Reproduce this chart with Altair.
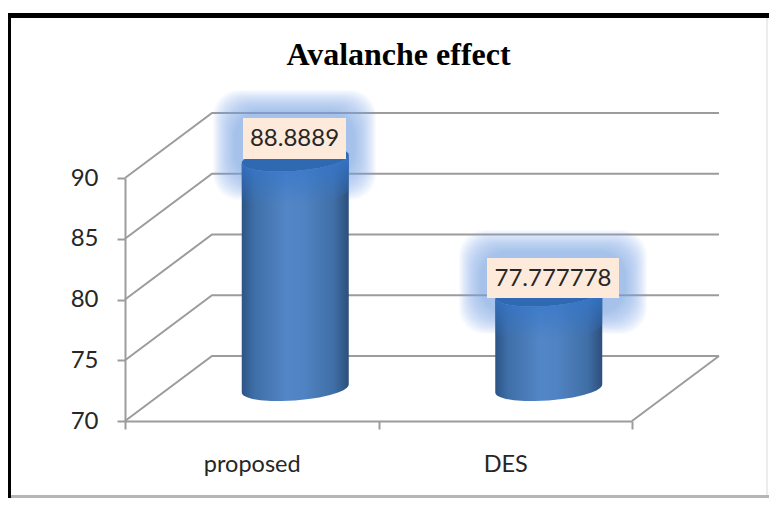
import numpy as np
import pandas as pd
import altair as alt

categories = ["proposed", "DES"]
values = [88.8889, 77.777778]
label_texts = ["88.8889", "77.777778"]
y_ticks = [70, 75, 80, 85, 90]

# pixel calibration of the oblique projection
X0, XU = 125.0, 253.5
Y0, YU = 421.0, 12.15
DX_PX, DY_PX = 87.0, 65.0
def ux(px): return (px - X0) / XU
def uy(py): return 70 + (Y0 - py) / YU
dx = DX_PX / XU
dy = DY_PX / YU

xs = alt.Scale(domain=[0, 2], nice=False, zero=False)
ys = alt.Scale(domain=[70, 90], nice=False, zero=False)
X = alt.X("x:Q", scale=xs, axis=None)
Y = alt.Y("y:Q", scale=ys, axis=None)
X2 = alt.X2("x2:Q")
Y2 = alt.Y2("y2:Q")

# back wall + side wall grid
grid_rows = []
for i, t in enumerate(y_ticks):
    grid_rows += [
        {"g": i, "o": 0, "x": 0, "y": t},
        {"g": i, "o": 1, "x": dx, "y": t + dy},
        {"g": i, "o": 2, "x": 2 + dx, "y": t + dy},
    ]
grid_rows += [
    {"g": 9, "o": 0, "x": 2, "y": 70},
    {"g": 9, "o": 1, "x": 2 + dx, "y": 70 + dy},
]
grid_df = pd.DataFrame(grid_rows)

GRID = "#9c9c9c"
AXFONT = "Lato"
AXCOL = "#262626"

grid = alt.Chart(grid_df).mark_line(color=GRID, strokeWidth=2).encode(
    x=alt.X("x:Q", scale=xs, axis=alt.Axis(
        values=[0, 0.5, 1, 1.5, 2], title=None, orient="bottom",
        tickSize=8, tickWidth=2, tickColor=GRID,
        tickOpacity={"condition": {"test": "datum.value % 1 != 0", "value": 0}, "value": 1},
        domainColor=GRID, domainWidth=2, grid=False,
        labelExpr=f"datum.value == 0.5 ? '{categories[0]}' : datum.value == 1.5 ? '{categories[1]}' : ''",
        labelFont=AXFONT, labelFontSize=23.5, labelColor=AXCOL, labelPadding=23,
        labelFlush=False, labelOverlap=False)),
    y=alt.Y("y:Q", scale=ys, axis=alt.Axis(
        values=y_ticks, title=None, orient="left", tickSize=8, tickWidth=2, tickColor=GRID,
        domainColor=GRID, domainWidth=2, grid=False, labelFont=AXFONT,
        labelFontSize=24, labelColor=AXCOL, labelPadding=19)),
    detail="g:N", order="o:Q",
)

# cylinders
RX = 53.5
TILT = 4.0
RY = 12.0
u = np.array([-1, -0.99, -0.96, -0.9, -0.8, -0.65, -0.45, -0.25, 0, 0.25, 0.45, 0.65, 0.8, 0.9, 0.96, 0.99, 1])
cyl_rows, cap_rows, sheen_rows = [], [], []
centers = [0.5 + dx / 2, 1.5 + dx / 2]
for i, (c, v) in enumerate(zip(centers, values)):
    top = v + dy / 2
    base = 70 + dy / 2
    for k in u:
        bulge = np.sqrt(1 - k * k) * RY / YU
        slope = k * TILT / YU
        x = c + k * RX / XU
        cyl_rows.append({"c": i, "x": x, "y": top + slope - bulge, "y2": base + slope - bulge})
        cap_rows.append({"c": i, "x": x, "y": top + slope + bulge, "y2": top + slope - bulge})
        sheen_rows.append({"c": i, "x": x, "y": top + slope - bulge, "y2": top + slope - bulge - 34 / YU})

side_grad = alt.Gradient(
    gradient="linear", x1=0, x2=1, y1=0, y2=0,
    stops=[
        alt.GradientStop(color="#2c5486", offset=0),
        alt.GradientStop(color="#3f6fa8", offset=0.12),
        alt.GradientStop(color="#5386c6", offset=0.42),
        alt.GradientStop(color="#5083c2", offset=0.58),
        alt.GradientStop(color="#406fa6", offset=0.86),
        alt.GradientStop(color="#2d4f7c", offset=1),
    ],
)
sheen_grad = alt.Gradient(
    gradient="linear", x1=0, x2=0, y1=0, y2=1,
    stops=[
        alt.GradientStop(color="rgba(52,118,204,0.95)", offset=0),
        alt.GradientStop(color="rgba(52,118,204,0)", offset=1),
    ],
)
sides = alt.Chart(pd.DataFrame(cyl_rows)).mark_area(color=side_grad).encode(x=X, y=Y, y2=Y2, detail="c:N")
sheen = alt.Chart(pd.DataFrame(sheen_rows)).mark_area(color=sheen_grad).encode(x=X, y=Y, y2=Y2, detail="c:N")
caps = alt.Chart(pd.DataFrame(cap_rows)).mark_area(color="#2f69b2").encode(x=X, y=Y, y2=Y2, detail="c:N")

# label boxes
box_left = [243.0, 487.0]
box_right = [346.0, 619.0]
box_top = [118.0, 258.0]
box_bottom = [159.0, 298.0]
label_df = pd.DataFrame({
    "x": [ux(a) for a in box_left], "x2": [ux(a) for a in box_right],
    "y": [uy(a) for a in box_top], "y2": [uy(a) for a in box_bottom],
    "tx": [ux((a + b) / 2) for a, b in zip(box_left, box_right)],
    "ty": [uy((a + b) / 2 + 0.5) for a, b in zip(box_top, box_bottom)],
    "t": label_texts,
})
boxes = alt.Chart(label_df).mark_rect(color="#fdeadb", opacity=1).encode(x=X, x2=X2, y=Y, y2=Y2)
texts = alt.Chart(label_df).mark_text(font=AXFONT, fontSize=24, color=AXCOL, baseline="middle", align="center").encode(
    x=alt.X("tx:Q", scale=xs, axis=None), y=alt.Y("ty:Q", scale=ys, axis=None), text="t:N")

# soft glow from stacked translucent rounded boxes
glow_rows = []
glow_bounds = [(241.0, 348.0, 118.0, 172.0), (487.0, 619.0, 258.0, 306.0)]
for a, b, c, d in glow_bounds:
    for e in np.linspace(28, 6, 22):
        glow_rows.append({"x": ux(a - e), "x2": ux(b + e), "y": uy(c - e), "y2": uy(d + e)})
glow = alt.Chart(pd.DataFrame(glow_rows)).mark_rect(color="#7fb4f0", opacity=0.048, cornerRadius=26).encode(
    x=X, x2=X2, y=Y, y2=Y2)

# picture frame
frame_df = pd.DataFrame({
    "x": [ux(8), ux(8), ux(11), ux(766)],
    "x2": [ux(769), ux(11), ux(769), ux(768)],
    "y": [uy(13), uy(13), uy(495), uy(18)],
    "y2": [uy(18), uy(498), uy(498), uy(495)],
    "col": ["#000000", "#000000", "#b5b5b5", "#ececec"],
})
frame = alt.Chart(frame_df).mark_rect().encode(
    x=X, x2=X2, y=Y, y2=Y2, color=alt.Color("col:N", scale=None))

chart = alt.layer(
    grid, frame, glow, sides, sheen, caps, boxes, texts
).resolve_axis(x="independent", y="independent").properties(
    width=507, height=243,
    padding={"left": 117, "top": 170, "right": 137, "bottom": 77},
    autosize=alt.AutoSizeParams(type="none"),
    background="white",
    title=alt.TitleParams(
        "Avalanche effect", font="Liberation Serif", fontSize=32, fontWeight="bold",
        color="#000000", anchor="middle", dx=20, offset=-59),
).configure_view(stroke=None)

chart.save("out.html", embed_options={"renderer": "svg", "actions": False})
